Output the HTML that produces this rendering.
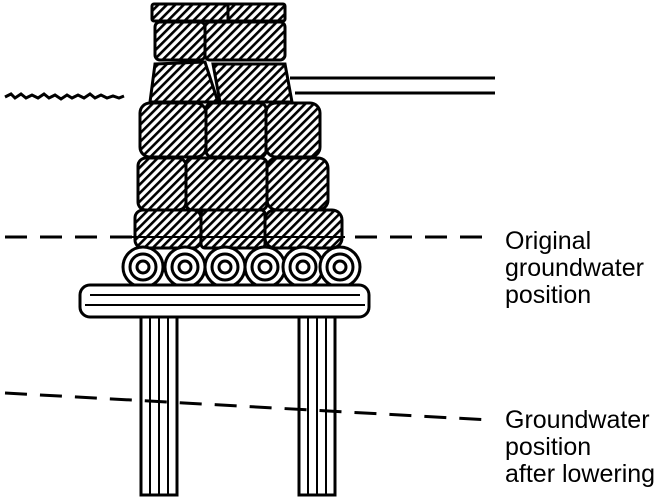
<!DOCTYPE html>
<html><head><style>
html,body{margin:0;padding:0;background:#fff;}
svg{display:block}
text{font-family:"Liberation Sans",sans-serif;font-size:25px;fill:#000}
</style></head><body>
<svg width="659" height="497" viewBox="0 0 659 497" xmlns="http://www.w3.org/2000/svg">
<defs>
<pattern id="h" width="6" height="6" patternUnits="userSpaceOnUse" patternTransform="rotate(45)">
<rect width="6" height="6" fill="#fff"/><rect width="2.6" height="6" fill="#000"/>
</pattern>
</defs>
<g stroke="#000" stroke-width="3" fill="none">
<line x1="5" y1="237" x2="490" y2="237" stroke-dasharray="22,13"/>
</g>
<g stroke="#000" stroke-width="3" fill="url(#h)">
<rect x="152" y="4" width="133" height="17" rx="2"/>
<line x1="228" y1="4" x2="228" y2="21"/>
<rect x="155" y="22" width="50" height="38" rx="5"/>
<rect x="205" y="22" width="80" height="38" rx="5"/>
<path d="M155 64 L205 62 L218 102 L150 102 Z"/>
<path d="M213 64 L285 64 L292 102 L220 102 Z"/>
<rect x="140" y="103" width="66" height="54" rx="10"/>
<rect x="206" y="103" width="60" height="54" rx="6"/>
<rect x="266" y="103" width="54" height="54" rx="10"/>
<rect x="138" y="158" width="48" height="52" rx="8"/>
<rect x="186" y="158" width="81" height="52" rx="6"/>
<rect x="267" y="158" width="61" height="52" rx="10"/>
<rect x="135" y="210" width="66" height="38" rx="8"/>
<rect x="201" y="210" width="64" height="38" rx="4"/>
<rect x="265" y="210" width="77" height="38" rx="10"/>
</g>
<line x1="130" y1="237" x2="345" y2="237" stroke="#000" stroke-width="2"/>
<g stroke="#000" stroke-width="3" fill="#fff">
<g><circle cx="143" cy="267" r="20"/><circle cx="143" cy="267" r="13"/><circle cx="143" cy="267" r="6"/></g>
<g><circle cx="185" cy="267" r="20"/><circle cx="185" cy="267" r="13"/><circle cx="185" cy="267" r="6"/></g>
<g><circle cx="225" cy="267" r="20"/><circle cx="225" cy="267" r="13"/><circle cx="225" cy="267" r="6"/></g>
<g><circle cx="265" cy="267" r="20"/><circle cx="265" cy="267" r="13"/><circle cx="265" cy="267" r="6"/></g>
<g><circle cx="303" cy="267" r="20"/><circle cx="303" cy="267" r="13"/><circle cx="303" cy="267" r="6"/></g>
<g><circle cx="340" cy="267" r="20"/><circle cx="340" cy="267" r="13"/><circle cx="340" cy="267" r="6"/></g>
<rect x="141" y="305" width="36" height="190" />
<rect x="299" y="305" width="36" height="190" />
<rect x="80" y="285" width="289" height="32" rx="10"/>
</g>
<g stroke="#000" stroke-width="2">
<line x1="90" y1="295" x2="360" y2="295"/><line x1="85" y1="305" x2="365" y2="305"/>
<line x1="150" y1="318" x2="150" y2="495"/><line x1="159" y1="318" x2="159" y2="495"/><line x1="168" y1="318" x2="168" y2="495"/>
<line x1="308" y1="318" x2="308" y2="495"/><line x1="317" y1="318" x2="317" y2="495"/><line x1="326" y1="318" x2="326" y2="495"/>
</g>
<g stroke="#000" stroke-width="3" fill="none">
<line x1="290" y1="78" x2="495" y2="78"/>
<line x1="295" y1="93" x2="495" y2="93"/>
<path d="M5 97 l6 -3 l4 4 l6 -4 l5 4 l6 -3 l6 3 l6 -4 l5 4 l6 -3 l6 4 l6 -4 l5 3 l6 -3 l6 3 l6 -4 l5 4 l6 -3 l6 3 l6 -2 l6 2 l5 -2"/>
<line x1="5" y1="393" x2="490" y2="420" stroke-dasharray="22,13"/>
</g>
<text x="505" y="249">Original</text>
<text x="505" y="276">groundwater</text>
<text x="505" y="303">position</text>
<text x="505" y="428">Groundwater</text>
<text x="505" y="455">position</text>
<text x="505" y="482">after lowering</text>
</svg>
</body></html>
